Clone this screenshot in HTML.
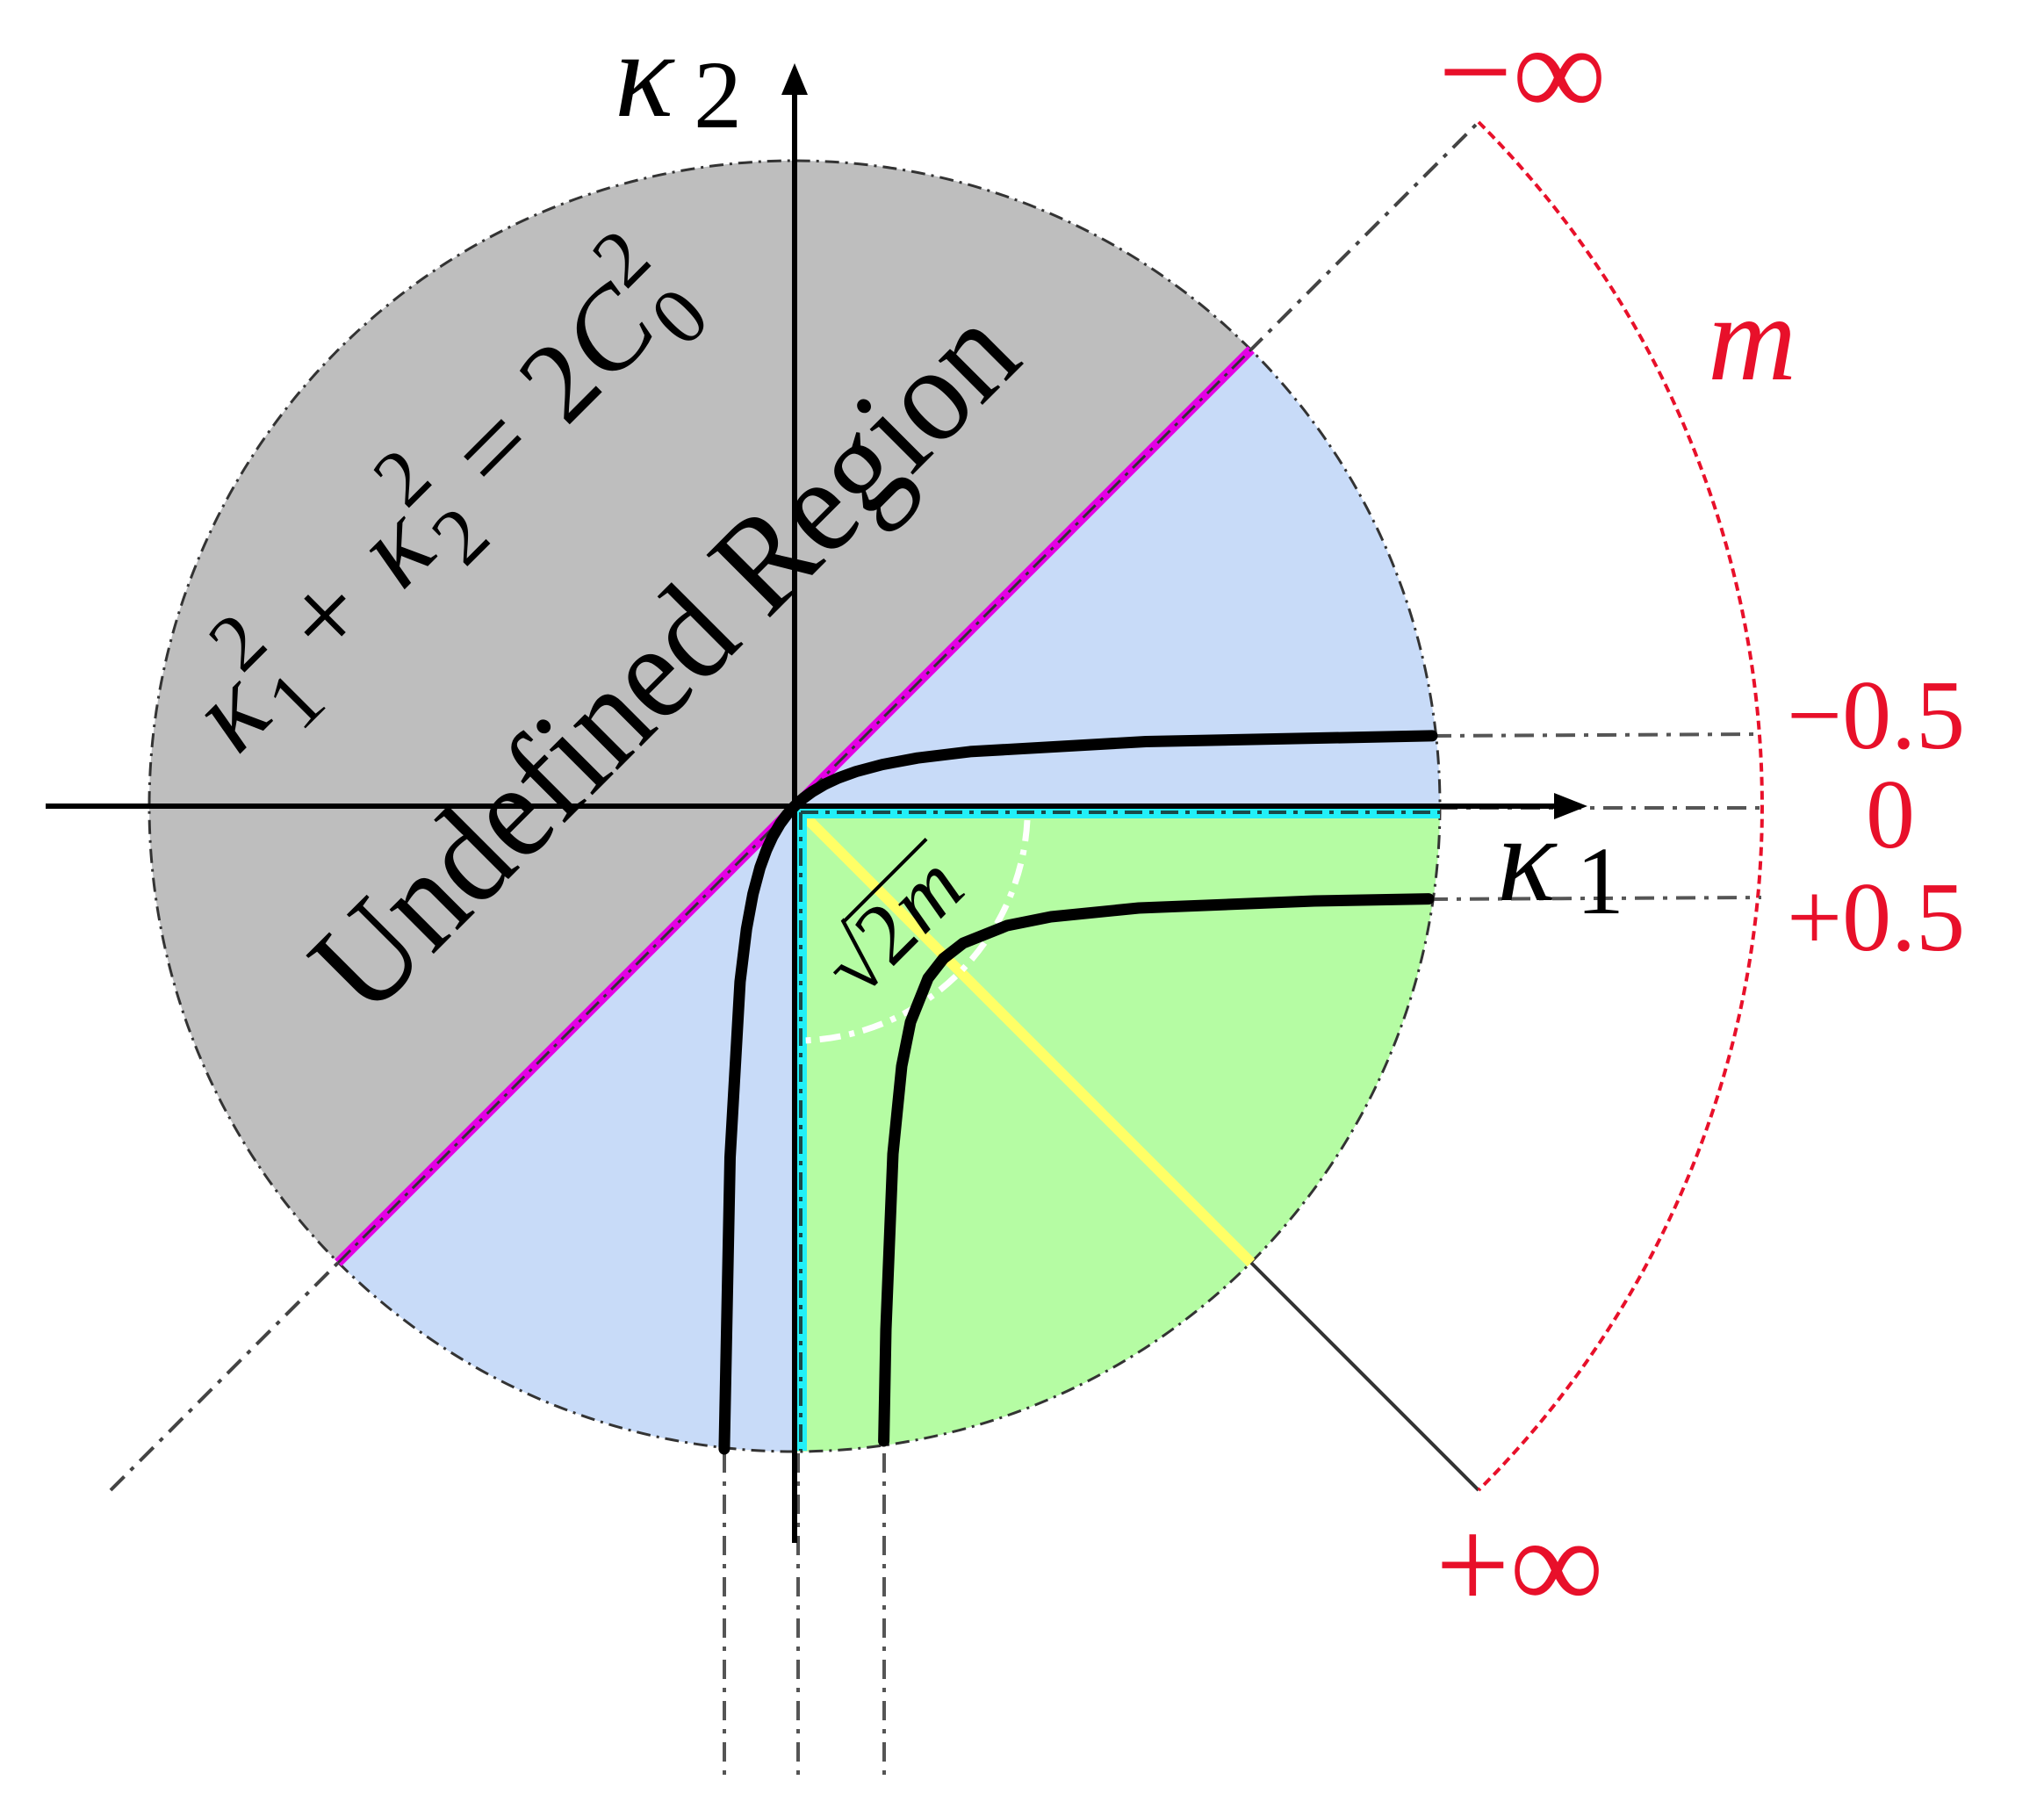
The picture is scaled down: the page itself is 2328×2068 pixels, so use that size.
<!DOCTYPE html>
<html><head><meta charset="utf-8"><style>html,body{margin:0;padding:0;background:#fff;width:2328px;height:2068px;overflow:hidden}svg{display:block}</style></head>
<body>
<svg width="2328" height="2068" viewBox="0 0 2328 2068" xmlns="http://www.w3.org/2000/svg">
<defs>
<clipPath id="cc"><circle cx="905" cy="918" r="735"/></clipPath>
</defs>
<g clip-path="url(#cc)">
<rect x="0" y="0" width="2328" height="2068" fill="#c8dbf8"/>
<polygon points="-500,2323 2310,-487 -500,-487" fill="#bebebe"/>
<rect x="905" y="918" width="800" height="800" fill="#b5fca3"/>
</g>
<circle cx="905" cy="918" r="735" fill="none" stroke="#333" stroke-width="3" stroke-dasharray="16 7 3 7"/>
<line x1="126" y1="1697" x2="1684" y2="139" stroke="#444" stroke-width="4" stroke-dasharray="22 10 5 10"/>
<line x1="385" y1="1438" x2="1425" y2="398" stroke="#e400e4" stroke-width="11"/>
<line x1="385" y1="1438" x2="1425" y2="398" stroke="#333" stroke-width="3" stroke-dasharray="20 8 4 8"/>
<line x1="905" y1="918" x2="1425" y2="1438" stroke="#ffff66" stroke-width="12"/>
<line x1="1425" y1="1438" x2="1684" y2="1697" stroke="#333" stroke-width="4"/>
<path d="M1684,139 A1101,1101 0 0 1 1684,1697" fill="none" stroke="#e8102a" stroke-width="4" stroke-dasharray="10 6"/>
<g stroke="#555" stroke-width="4" stroke-dasharray="22 10 5 10" fill="none">
<line x1="1631" y1="838" x2="2006" y2="836"/>
<line x1="1638" y1="920" x2="2006" y2="920"/>
<line x1="1627" y1="1024" x2="2006" y2="1022"/>
<line x1="825" y1="1655" x2="825" y2="2022"/>
<line x1="909" y1="1655" x2="909" y2="2022"/>
<line x1="1007" y1="1655" x2="1007" y2="2022"/>
</g>
<line x1="905" y1="925" x2="1640" y2="925" stroke="#22f0f8" stroke-width="14"/>
<line x1="912" y1="918" x2="912" y2="1652" stroke="#22f0f8" stroke-width="14"/>
<line x1="912" y1="925" x2="1640" y2="925" stroke="#1a4a4a" stroke-width="4" stroke-dasharray="20 8 5 8"/>
<line x1="912" y1="925" x2="912" y2="1652" stroke="#1a4a4a" stroke-width="4" stroke-dasharray="20 8 5 8"/>
<line x1="52" y1="918" x2="1785" y2="918" stroke="#000" stroke-width="6"/>
<path d="M1770,903 L1808,918 L1770,933 Z" fill="#000"/>
<line x1="905" y1="1757" x2="905" y2="95" stroke="#000" stroke-width="6"/>
<path d="M890,108 L905,72 L920,108 Z" fill="#000"/>
<path d="M1170,934 A265,265 0 0 1 915,1185" fill="none" stroke="#fff" stroke-width="7" stroke-dasharray="24 10 6 10"/>
<g transform="translate(-3,-2)">
<polyline fill="none" stroke="#000" stroke-width="13" stroke-linejoin="round" stroke-linecap="round" points="827.9,1652 834.5,1320 845.9,1120 853.2,1060 860.6,1020 868.6,990 875.9,970 882.8,955 891.6,940 899,930 903.3,925 908,920 913,915.3 918,911 928,903.6 943,894.8 958,887.9 978,880.6 1008,872.6 1048,865.2 1108,857.9 1308,846.5 1634,839.9"/>
<polyline fill="none" stroke="#000" stroke-width="13" stroke-linejoin="round" stroke-linecap="round" points="1009.6,1643 1012,1516 1020,1316 1030,1216 1040,1166 1060,1116 1077.5,1093.5 1100,1076 1150,1056 1200,1046 1300,1036 1500,1028 1630,1025.6"/>
</g>
<g font-family="Liberation Serif, serif" fill="#000">
<text x="700" y="132" font-size="140" font-style="italic">κ</text>
<text x="790" y="145" font-size="110">2</text>
<text x="1705" y="1025" font-size="140" font-style="italic">κ</text>
<text x="1795" y="1040" font-size="110">1</text>
<g transform="translate(418,1162) rotate(-45)">
<text x="0" y="0" font-size="155" textLength="1060" lengthAdjust="spacingAndGlyphs">Undefined Region</text>
</g>
<g transform="translate(270,862) rotate(-45)">
<text x="0" y="0" font-size="130" font-style="italic">κ</text>
<text x="70" y="32" font-size="92">1</text>
<text x="70" y="-62" font-size="92">2</text>
<text x="148" y="0" font-size="130">+</text>
<text x="265" y="0" font-size="130" font-style="italic">κ</text>
<text x="335" y="32" font-size="92">2</text>
<text x="335" y="-62" font-size="92">2</text>
<text x="418" y="0" font-size="130">=</text>
<text x="530" y="0" font-size="130">2</text>
<text x="597" y="0" font-size="130" font-style="italic">C</text>
<text x="688" y="32" font-size="92">0</text>
<text x="688" y="-62" font-size="92">2</text>
</g>
<g transform="translate(978,1140) rotate(-45)">
<text x="0" y="0" font-size="100">√</text>
<line x1="50" y1="-76" x2="185" y2="-76" stroke="#000" stroke-width="4"/>
<text x="52" y="0" font-size="100">2</text>
<text x="104" y="0" font-size="100" font-style="italic">m</text>
</g>
</g>
<g font-family="Liberation Serif, serif" fill="#e8102a">
<text x="1638" y="132" font-size="150">−∞</text>
<text x="1945" y="432" font-size="140" font-style="italic">m</text>
<text x="2035" y="852" font-size="112">−0.5</text>
<text x="2125" y="965" font-size="112">0</text>
<text x="2035" y="1082" font-size="112">+0.5</text>
<text x="1635" y="1832" font-size="150">+∞</text>
</g>
</svg>
</body></html>
